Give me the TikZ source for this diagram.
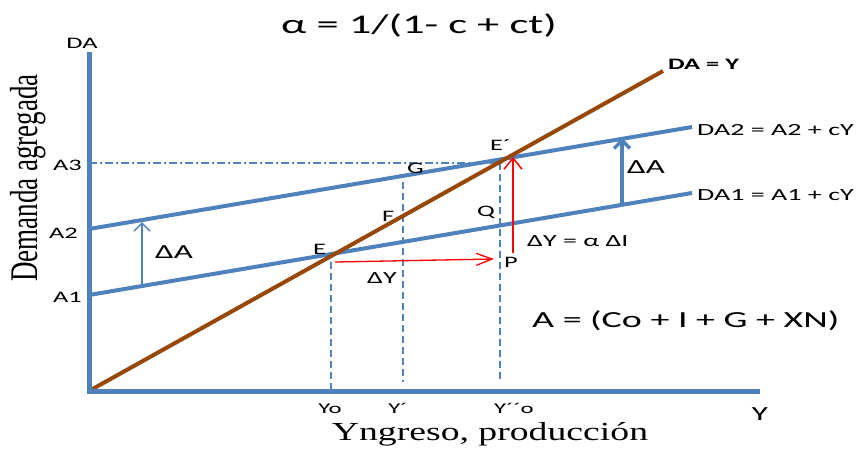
\documentclass[tikz,border=0pt]{standalone}
\usepackage{fontspec}
\setmainfont{Liberation Serif}
\newfontfamily\sfw[FakeStretch=1.65]{Carlito}
\newfontfamily\rmw[FakeStretch=1.45]{Liberation Serif}
\newfontfamily\rmplain{Liberation Serif}
\usetikzlibrary{arrows.meta}
\definecolor{axblue}{RGB}{79,129,189}
\definecolor{brn}{RGB}{151,71,6}
\definecolor{rd}{RGB}{255,0,0}
\newcommand\fsz[1]{\fontsize{#1}{#1}\selectfont}
\begin{document}
\begin{tikzpicture}[x=1pt,y=-1pt,
  lbl/.style={inner sep=0pt, font={\sfw\fsz{16}}},
  axisline/.style={draw=axblue, line width=5pt, line join=miter},
  curveblue/.style={draw=axblue, line width=4pt},
  curvebrown/.style={draw=brn, line width=4pt},
  guide/.style={draw=axblue, line width=1.3pt, dash pattern=on 7pt off 4pt},
  guidedot/.style={draw=axblue, line width=1.1pt, dash pattern=on 8pt off 3pt on 2pt off 3pt},
  redarrow/.style={draw=rd, line width=1.3pt}
]
\useasboundingbox (0,0) rectangle (857,450);

% coordinates
\coordinate (Ytop) at (89,52);
\coordinate (O) at (89,391);
\coordinate (Xend) at (760,391);
\coordinate (B1) at (663,71);
\coordinate (D2s) at (89,229);
\coordinate (D2e) at (692,127);
\coordinate (D1s) at (89,295);
\coordinate (D1e) at (692,193);
\coordinate (A3s) at (89,163);
\coordinate (A3e) at (505,163);
\coordinate (YoT) at (331,262);
\coordinate (YoB) at (331,389);
\coordinate (YpT) at (403,182);
\coordinate (YpB) at (403,382);
\coordinate (YppT) at (500,163);
\coordinate (YppB) at (500,381);
\coordinate (RHs) at (335,262);
\coordinate (RHe) at (494,259);
\coordinate (RVs) at (513,253);
\coordinate (RVe) at (513,157);
\coordinate (LAs) at (142,286);
\coordinate (LAe) at (142,222);
\coordinate (RAs) at (622,203);
\coordinate (RAe) at (622,138);

% guides
\draw[guidedot] (A3s) -- (A3e);
\draw[guide] (YoT) -- (YoB);
\draw[guide] (YpT) -- (YpB);
\draw[guide] (YppT) -- (YppB);

% curves
\draw[curveblue] (D1s) -- (D1e);
\draw[curveblue] (D2s) -- (D2e);
\draw[curvebrown] (O) -- (B1);

% axes
\draw[axisline] (Ytop) -- (O) -- (Xend);

% arrows
\draw[redarrow, -{Straight Barb[length=16pt,width=12pt,line width=1.3pt]}] (RHs) -- (RHe);
\draw[redarrow, -{Straight Barb[length=11pt,width=18pt,line width=1.5pt]}] (RVs) -- (RVe);
\draw[draw=axblue, line width=1.5pt, -{Straight Barb[length=8pt,width=16pt,line width=1.5pt]}] (LAs) -- (LAe);
\draw[draw=axblue, line width=4pt, -{Straight Barb[length=8pt,width=16pt,line width=3.5pt]}] (RAs) -- (RAe);

% labels
\node[lbl, anchor=base, font={\sfw\fsz{27}}] (title) at (419,33) {α = 1/(1- c + ct)};
\node[lbl, anchor=base, font={\sfw\fsz{16}}] (DA) at (82,48) {DA};
\node[lbl, anchor=base east] (A3) at (82,170) {A3};
\node[lbl, anchor=base east] (A2) at (78,238) {A2};
\node[lbl, anchor=base east] (A1) at (82,302) {A1};
\node[lbl, anchor=base west, font={\sfw\bfseries\fsz{16}}] (DAY) at (668,69) {DA = Y};
\node[lbl, anchor=base west, font={\sfw\fsz{17}}] (DA2) at (697,135) {DA2 = A2 + cY};
\node[lbl, anchor=base west, font={\sfw\fsz{17}}] (DA1) at (697,200) {DA1 = A1 + cY};
\node[lbl, anchor=base west, font={\sfw\fsz{20}}] (dAr) at (627,173) {ΔA};
\node[lbl, anchor=base west, font={\sfw\fsz{20}}] (dAl) at (155,258) {ΔA};
\node[lbl, anchor=base west] (Ep) at (490,150) {E´};
\node[lbl, anchor=base west] (G) at (407,173) {G};
\node[lbl, anchor=base west] (F) at (382,221) {F};
\node[lbl, anchor=base west] (Q) at (477,216) {Q};
\node[lbl, anchor=base west] (E) at (313,254) {E};
\node[lbl, anchor=base west] (P) at (504,267) {P};
\node[lbl, anchor=base west, font={\sfw\fsz{17}}] (dY) at (367,283) {ΔY};
\node[lbl, anchor=base west, font={\sfw\fsz{17}}] (dYa) at (527,246) {ΔY = α ΔI};
\node[lbl, anchor=base west, font={\sfw\fsz{23}}] (Aeq) at (532,327) {A = (Co + I + G + XN)};
\node[lbl, anchor=base, font={\sfw\fsz{15}}] (Yo) at (330,413) {Yo};
\node[lbl, anchor=base, font={\sfw\fsz{15}}] (Yp) at (398,413) {Y´};
\node[lbl, anchor=base, font={\sfw\fsz{15}}] (Ypp) at (514,413) {Y´´o};
\node[lbl, anchor=base, font={\sfw\fsz{20}}] (Yax) at (760,420) {Y};
\node[inner sep=0pt, anchor=base, font={\rmw\fsz{26}}] (xlab) at (490,440) {Yngreso, producción};
\node[inner sep=0pt, font={\rmplain\fsz{27}}] (ylab) at (28,178) {\rotatebox{90}{\scalebox{1}[1.45]{Demanda agregada}}};
\end{tikzpicture}
\end{document}
